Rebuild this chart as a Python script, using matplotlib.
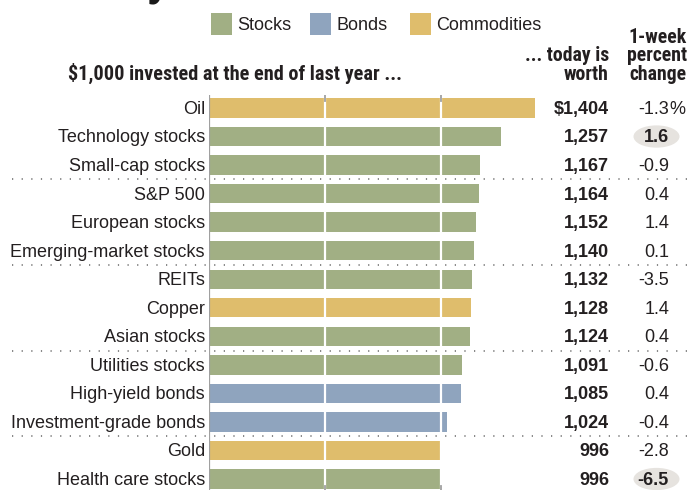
import matplotlib
matplotlib.use("Agg")
import matplotlib.pyplot as plt
from matplotlib import transforms
from matplotlib.patches import Ellipse, Rectangle

labels = ["Oil", "Technology stocks", "Small-cap stocks", "S&P 500",
          "European stocks", "Emerging-market stocks", "REITs", "Copper",
          "Asian stocks", "Utilities stocks", "High-yield bonds",
          "Investment-grade bonds", "Gold", "Health care stocks"]
worth = [1404, 1257, 1167, 1164, 1152, 1140, 1132, 1128, 1124, 1091, 1085,
         1024, 996, 996]
week_change = [-1.3, 1.6, -0.9, 0.4, 1.4, 0.1, -3.5, 1.4, 0.4, -0.6, 0.4,
               -0.4, -2.8, -6.5]
asset_class = ["Commodities", "Stocks", "Stocks", "Stocks", "Stocks",
               "Stocks", "Stocks", "Commodities", "Stocks", "Stocks", "Bonds",
               "Bonds", "Commodities", "Stocks"]
highlighted = ["Technology stocks", "Health care stocks"]
group_breaks = [2.5, 5.5, 8.5, 11.5]

colors = {"Stocks": "#a1af84", "Bonds": "#8fa4be", "Commodities": "#dfbd6c"}
TEXT = "#231f20"
NARROW = ["Roboto Condensed", "DejaVu Sans"]
SANS = ["Liberation Sans", "DejaVu Sans"]

W, H = 692, 490
fig = plt.figure(figsize=(W / 100, H / 100), dpi=100)

def px(x):
    return x / W

# bar panel: x=0 sits at 209px, $1 = 0.2322px
x0, scale = 209, 0.2322
ax = fig.add_axes([px(x0), 0, 1 - px(x0), (H - 95) / H])
ax.set_xlim(0, (W - x0) / scale)
ax.set_ylim(13.385, -0.455)
ax.axis("off")

rows = list(range(len(labels)))
ax.barh(rows, worth, height=0.68, color=[colors[c] for c in asset_class],
        zorder=2)
for v in (500, 1000):
    ax.axvline(v, color="white", lw=1.6, zorder=3)
    ax.plot([v, v], [-0.455, -0.25], color="#a0a0a0", lw=1.3, zorder=3)
    ax.plot([v, v], [13.385, 13.25], color="#a0a0a0", lw=1.3, zorder=3)
ax.axvline(0, color="#a0a0a0", lw=1.6, zorder=4)

mix = transforms.blended_transform_factory(fig.transFigure, ax.transData)
for y in group_breaks:
    ax.plot([px(12), 1], [y, y], transform=mix, color="#666666", lw=1.1,
            ls=(0, (0.8, 5.5)), zorder=5, clip_on=False)

for i, (lab, val, chg) in enumerate(zip(labels, worth, week_change)):
    ax.text(px(205), i + 0.05, lab, transform=mix, ha="right", va="center",
            fontsize=13, family=SANS, color=TEXT)
    val_txt = f"${val:,}" if i == 0 else f"{val:,}"
    ax.text(px(609), i + 0.05, val_txt, transform=mix, ha="right",
            va="center", fontsize=13, fontweight="bold", family=SANS,
            color=TEXT)
    bold = lab in highlighted
    if bold:
        ax.add_patch(Ellipse((px(656.5), i), px(46), 0.78, transform=mix,
                             facecolor="#e6e3df", edgecolor="none",
                             zorder=1, clip_on=False))
    ax.text(px(669), i + 0.05, f"{chg:.1f}", transform=mix, ha="right",
            va="center", fontsize=13, family=SANS, color=TEXT,
            fontweight="bold" if bold else "normal", zorder=6)
    if i == 0:
        ax.text(px(669), i + 0.05, "%", transform=mix, ha="left",
                va="center", fontsize=13, family=SANS, color=TEXT)

# headers
head = dict(fontweight="bold", family=NARROW, color=TEXT, va="baseline",
            linespacing=0.98)
fig.text(px(68), 1 - 80 / H, "$1,000 invested at the end of last year ...",
         ha="left", fontsize=14.6, **head)
fig.text(px(609), 1 - 80 / H, "... today is\nworth", ha="right",
         multialignment="right", fontsize=14.2, **head)
fig.text(px(687), 1 - 80 / H, "1-week\npercent\nchange", ha="right",
         multialignment="right", fontsize=14.2, **head)

# legend
for x, name in [(211, "Stocks"), (310, "Bonds"), (410, "Commodities")]:
    fig.patches.append(Rectangle((px(x), 1 - 35 / H), px(21), 22 / H,
                                 transform=fig.transFigure,
                                 facecolor=colors[name], edgecolor="none"))
    fig.text(px(x + 26), 1 - 25 / H, name, ha="left", va="center",
             fontsize=13, family=SANS, color=TEXT)

# tail of the page headline above
fig.text(px(146), 1 + 7 / H, "y", ha="left", va="baseline", fontsize=40,
         fontweight="bold", family=NARROW, color="#1a1a1a")

fig.savefig("out.png", dpi=100)
